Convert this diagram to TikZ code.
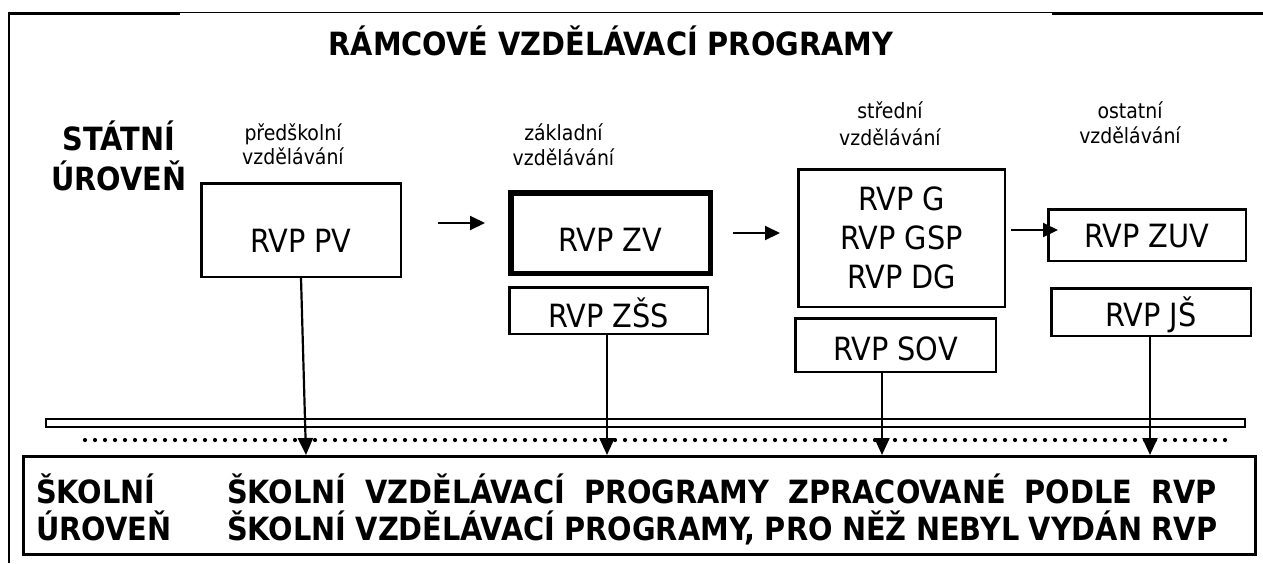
\documentclass[tikz,border=0pt]{standalone}
\usepackage{fontspec}
\setmainfont{DejaVu Sans Condensed}
\usetikzlibrary{arrows.meta}
\begin{document}
\begin{tikzpicture}[x=1pt,y=-1pt,
  box/.style={draw, line width=2.5pt, inner sep=0pt, font=\fontsize{32}{39}\selectfont},
  lab/.style={anchor=base, inner sep=0pt, font=\fontsize{21}{25}\selectfont},
  head/.style={anchor=base, inner sep=0pt, font=\bfseries\fontsize{32}{37}\selectfont},
  harr/.style={line width=2pt, -{Triangle[length=15pt,width=14pt]}},
  varr/.style={line width=2.2pt, -{Triangle[length=17pt,width=15pt]}},
  dots/.style={line width=4.2pt, line cap=round, dash pattern=on 0pt off 10pt}]

\useasboundingbox (0,0) rectangle (1263,563);

% outer frame
\draw[line width=3.3pt] (9,13.3) -- (180,13.3);
\draw[line width=1.5pt] (180,12.7) -- (1052,12.7);
\draw[line width=3.3pt] (1052,13.3) -- (1263,13.3);
\draw[line width=2.5pt] (9,11.6) -- (9,563);

% headings
\node[head] (title) at (611,55) {RÁMCOVÉ VZDĚLÁVACÍ PROGRAMY};
\node[head] (st1) at (119,150) {STÁTNÍ};
\node[head] (st2) at (119,190) {ÚROVEŇ};

% level labels
\node[lab] (l1a) at (293,140) {předškolní};
\node[lab] (l1b) at (293,164) {vzdělávání};
\node[lab] (l2a) at (563.5,140) {základní};
\node[lab] (l2b) at (563.5,165) {vzdělávání};
\node[lab] (l3a) at (890,118) {střední};
\node[lab] (l3b) at (890,145) {vzdělávání};
\node[lab] (l4a) at (1130,118) {ostatní};
\node[lab] (l4b) at (1130,143) {vzdělávání};

% boxes
\node[box, minimum width=199.5pt, minimum height=93.5pt, text height=44pt, text depth=0pt] (pv) at (301,230) {RVP PV};
\node[box, line width=5.5pt, minimum width=199.5pt, minimum height=80.5pt, text height=36pt, text depth=0pt] (zv) at (610.5,233) {RVP ZV};
\node[box, minimum width=198.5pt, minimum height=46.5pt, text height=33pt, text depth=0pt] (zss) at (608.5,310.5) {RVP ZŠS};
\node[box, align=center, minimum width=206.5pt, minimum height=137.5pt] (sec) at (901.5,238) {RVP G\\RVP GSP\\RVP DG};
\node[box, minimum width=200.5pt, minimum height=53.5pt, text height=30pt, text depth=0pt] (sov) at (895.5,345) {RVP SOV};
\node[box, minimum width=197.5pt, minimum height=51.5pt, text height=24pt, text depth=0pt] (zuv) at (1147,235) {RVP ZUV};
\node[box, minimum width=199.5pt, minimum height=47.5pt, text height=28pt, text depth=0pt] (js) at (1151,312) {RVP JŠ};

% horizontal arrows
\coordinate (a1s) at (438,223); \coordinate (a1e) at (485,223);
\coordinate (a2s) at (733,233); \coordinate (a2e) at (780,233);
\coordinate (a3s) at (1011,230); \coordinate (a3e) at (1058,230);
\draw[harr] (a1s) -- (a1e);
\draw[harr] (a2s) -- (a2e);
\draw[harr] (a3s) -- (a3e);

% separator bar and dotted line
\node[draw, line width=2pt, inner sep=0pt, minimum width=1199pt, minimum height=8pt] (bar) at (645.5,423) {};
\coordinate (dl) at (85,440); \coordinate (dr) at (1227,440);
\draw[dots] (dl) -- (dr);

% school level box
\node[draw, line width=3pt, inner sep=0pt, minimum width=1232pt, minimum height=98pt] (school) at (639.5,505.5) {};
\node[head, anchor=base west] (sk1) at (36,503) {ŠKOLNÍ};
\node[head, anchor=base west] (sk2) at (36,540) {ÚROVEŇ};
\node[head, anchor=base west] (sp1) at (227,503) {\makebox[990pt][s]{ŠKOLNÍ\hfill VZDĚLÁVACÍ\hfill PROGRAMY\hfill ZPRACOVANÉ\hfill PODLE\hfill RVP}};
\node[head, anchor=base west] (sp2) at (227,540) {\makebox[990pt][s]{ŠKOLNÍ\hfill VZDĚLÁVACÍ\hfill PROGRAMY,\hfill PRO\hfill NĚŽ\hfill NEBYL\hfill VYDÁN\hfill RVP}};

% vertical arrows
\coordinate (e1) at (306,455);
\coordinate (e2) at (607,455);
\coordinate (e3) at (882,455);
\coordinate (e4) at (1150,455);
\draw[varr] (pv.south) -- (e1);
\draw[varr] (zss.south -| e2) -- (e2);
\draw[varr] (sov.south -| e3) -- (e3);
\draw[varr] (js.south -| e4) -- (e4);
\end{tikzpicture}
\end{document}
